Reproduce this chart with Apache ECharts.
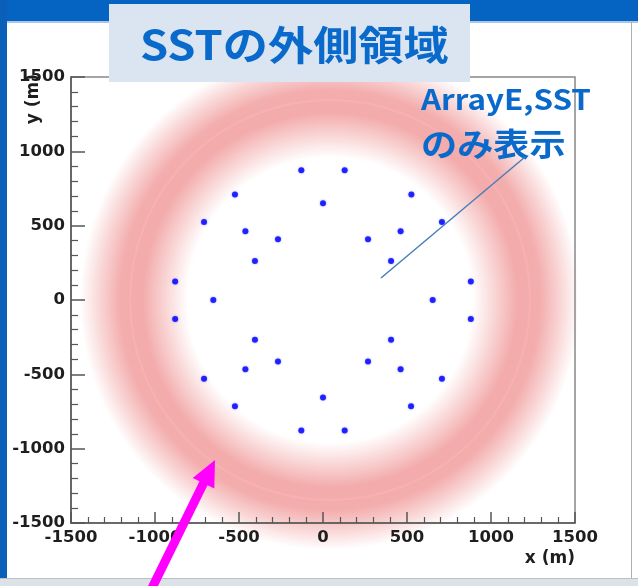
<!DOCTYPE html>
<html>
<head>
<meta charset="utf-8">
<script src="https://cdn.jsdelivr.net/npm/echarts@6/dist/echarts.min.js"></script>
<style>
html,body{margin:0;padding:0;background:#fff;}
#chart{width:638px;height:586px;}
</style>
</head>
<body>
<div id="chart"></div>
<script>
// ---- data ----
const xValues = [-129, 129, -524, 526, 0, -708, 708, -462, 462, -268, 268, -405, 405, -880, 880, -653, 653,
                 -880, 880, -405, 405, -268, 268, -462, 462, -708, 708, -524, 524, 0, -129, 129];
const yValues = [872, 872, 710, 710, 650, 525, 525, 462, 462, 408, 408, 262, 262, 125, 125, 0, 0,
                 -127, -127, -267, -267, -413, -413, -465, -465, -530, -530, -715, -715, -655, -877, -877];
const axisMin = -1500;
const axisMax = 1500;
const axisStep = 500;
const titleText = 'SSTの外側領域';
const noteLine1 = 'ArrayE,SST';
const noteLine2 = 'のみ表示';
const xTitle = 'x (m)';
const yTitle = 'y (m)';

const points = xValues.map((x, i) => [x, yValues[i]]);

const chart = echarts.init(document.getElementById('chart'), null, {renderer: 'canvas'});

const axisColor = '#555';
const labelStyle = {fontFamily: 'DejaVu Sans', fontWeight: 'bold', fontSize: 16.5, color: '#1e1e1e',
                    formatter: v => String(v)};

const pinkGrad = new echarts.graphic.RadialGradient(0.5, 0.5, 0.5, [
  {offset: 0, color: 'rgba(240,150,150,0)'},
  {offset: 0.57, color: 'rgba(240,150,150,0)'},
  {offset: 0.75, color: 'rgba(240,150,150,0.8)'},
  {offset: 0.84, color: 'rgba(240,150,150,0.78)'},
  {offset: 0.92, color: 'rgba(240,150,150,0.4)'},
  {offset: 1, color: 'rgba(240,150,150,0)'}
]);

const option = {
  backgroundColor: '#fff',
  animation: false,
  grid: {left: 71, top: 77, right: 63, bottom: 63, show: true, borderColor: '#888', borderWidth: 1.5, backgroundColor: 'transparent'},
  xAxis: {
    type: 'value', min: axisMin, max: axisMax, interval: axisStep,
    axisLine: {show: true, onZero: false, lineStyle: {color: axisColor, width: 1.5}},
    axisTick: {show: true, inside: true, length: 11, lineStyle: {color: axisColor, width: 1.5}},
    minorTick: {show: true, splitNumber: 5, length: 6, lineStyle: {color: axisColor, width: 1.2}},
    splitLine: {show: false},
    axisLabel: Object.assign({margin: 6, showMinLabel: true, showMaxLabel: true}, labelStyle),
    name: xTitle, nameLocation: 'end', nameGap: 0,
    nameTextStyle: {fontFamily: 'DejaVu Sans', fontWeight: 'bold', fontSize: 17, color: '#1e1e1e',
                    align: 'right', verticalAlign: 'top', padding: [27, 0, 0, 0]}
  },
  yAxis: {
    type: 'value', min: axisMin, max: axisMax, interval: axisStep,
    axisLine: {show: true, onZero: false, lineStyle: {color: axisColor, width: 1.5}},
    axisTick: {show: true, inside: true, length: 14, lineStyle: {color: axisColor, width: 1.5}},
    minorTick: {show: true, splitNumber: 5, length: 7, lineStyle: {color: axisColor, width: 1.2}},
    splitLine: {show: false},
    axisLabel: Object.assign({margin: 6, showMinLabel: true, showMaxLabel: true}, labelStyle)
  },
  series: [{
    type: 'scatter',
    data: points,
    symbol: 'circle',
    symbolSize: 6,
    itemStyle: {color: '#0000ff', shadowBlur: 2, shadowColor: 'rgba(0,0,255,0.5)'},
    z: 5
  }],
  graphic: [
    // pink soft ring region
    {type: 'circle', z: -2, silent: true, shape: {cx: 330, cy: 300, r: 250}, style: {fill: pinkGrad}},
    {type: 'circle', z: -1, silent: true, shape: {cx: 330, cy: 300, r: 200}, style: {fill: null, stroke: 'rgba(255,180,180,0.55)', lineWidth: 2}},
    // white area right of frame
    {type: 'rect', z: -0.5, silent: true, shape: {x: 577, y: 22, width: 55, height: 556}, style: {fill: '#fff'}},
    // y axis title (rotated, reading upward, ending at the top of the axis)
    {type: 'text', z: 6, silent: true, x: 34, y: 74, rotation: Math.PI / 2,
     style: {text: yTitle, font: 'bold 17px "DejaVu Sans"', fill: '#1e1e1e', textAlign: 'right', textVerticalAlign: 'middle'}},
    // slide decorations
    {type: 'rect', z: 20, silent: true, shape: {x: 0, y: 0, width: 638, height: 21}, style: {fill: '#0563c1'}},
    {type: 'rect', z: 20, silent: true, shape: {x: 0, y: 21, width: 638, height: 2}, style: {fill: '#a9c6e8'}},
    {type: 'rect', z: 20, silent: true, shape: {x: 0, y: 0, width: 7, height: 580}, style: {fill: '#0a5fb8'}},
    {type: 'rect', z: 20, silent: true, shape: {x: 0, y: 578, width: 638, height: 8}, style: {fill: '#dde2e7'}},
    {type: 'rect', z: 20, silent: true, shape: {x: 0, y: 578, width: 638, height: 1}, style: {fill: '#b8c0c8'}},
    {type: 'rect', z: 20, silent: true, shape: {x: 631, y: 22, width: 1, height: 556}, style: {fill: '#b0b0b0'}},
    // title box
    {type: 'rect', z: 21, silent: true, shape: {x: 109, y: 4, width: 361, height: 78}, style: {fill: '#dbe5f1'}},
    {type: 'text', z: 22, silent: true, x: 140, y: 45, scaleX: 1.13, scaleY: 1,
     style: {text: titleText, font: 'bold 40px "Noto Sans CJK JP"', fill: '#0a6acb', textAlign: 'left', textVerticalAlign: 'middle'}},
    // note text
    {type: 'text', z: 22, silent: true, x: 421, y: 99, scaleX: 1.12, scaleY: 1,
     style: {text: noteLine1, font: 'bold 28px "Noto Sans CJK JP"', fill: '#0a6acb', textAlign: 'left', textVerticalAlign: 'middle'}},
    {type: 'text', z: 22, silent: true, x: 421, y: 144, scaleX: 1.13, scaleY: 1,
     style: {text: noteLine2, font: 'bold 32px "Noto Sans CJK JP"', fill: '#0a6acb', textAlign: 'left', textVerticalAlign: 'middle'}},
    // pointer line
    {type: 'line', z: 22, silent: true, shape: {x1: 525, y1: 157, x2: 381, y2: 278}, style: {stroke: '#4a7ebb', lineWidth: 1.5}},
    // magenta arrow
    {type: 'polygon', z: 23, silent: true,
     shape: {points: [[215, 460], [214.3, 488.6], [207.5, 485.3], [150.1, 602], [142.1, 598], [199.5, 481.3], [192.7, 478]]},
     style: {fill: '#ff00ff'}}
  ]
};
chart.setOption(option);
</script>
</body>
</html>
